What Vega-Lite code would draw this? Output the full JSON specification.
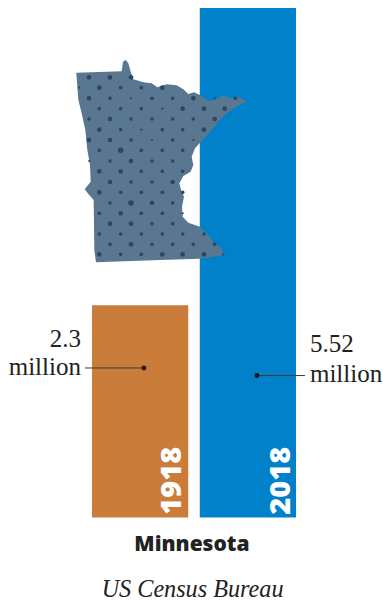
{
"$schema":"https://vega.github.io/schema/vega-lite/v6.json",
"width":383,"height":602,"padding":0,"autosize":{"type":"none"},
"background":"white",
"config":{"view":{"stroke":null}},
"datasets":{
"bars":[{"year":"1918","start":0,"end":1,"population":2.3},{"year":"2018","start":1.12,"end":2.12,"population":5.52}],
"leaders":[{"year":"1918","dot":0.54,"end":-0.073,"level":1.62},{"year":"2018","dot":1.714,"end":2.213,"level":1.538}],
"labelsLeft":[{"text":"2.3","pos":-0.115,"level":1.85},{"text":"million","pos":-0.115,"level":1.54}],
"labelsRight":[{"text":"5.52","pos":2.265,"level":1.79},{"text":"million","pos":2.265,"level":1.47}],
"dots":[
{"e":36,"n":554,"w":3},{"e":99,"n":554,"w":3},{"e":162,"n":554,"w":3},
{"e":6,"n":523,"w":1},{"e":67,"n":523,"w":3},{"e":131,"n":523,"w":2},{"e":193,"n":523,"w":2},{"e":256,"n":523,"w":3},
{"e":36,"n":491,"w":3},{"e":99,"n":491,"w":2},{"e":162,"n":491,"w":1},{"e":225,"n":491,"w":2},{"e":287,"n":491,"w":2},{"e":349,"n":491,"w":3},{"e":413,"n":491,"w":1},{"e":475,"n":491,"w":2},
{"e":67,"n":460,"w":2},{"e":131,"n":460,"w":2},{"e":193,"n":460,"w":2},{"e":256,"n":460,"w":1},{"e":317,"n":460,"w":3},{"e":381,"n":460,"w":3},{"e":443,"n":460,"w":3},
{"e":36,"n":429,"w":2},{"e":99,"n":429,"w":3},{"e":162,"n":429,"w":2},{"e":225,"n":429,"w":2},{"e":287,"n":429,"w":2},{"e":349,"n":429,"w":2},{"e":413,"n":429,"w":3},
{"e":67,"n":397,"w":3},{"e":131,"n":397,"w":2},{"e":193,"n":397,"w":1},{"e":256,"n":397,"w":2},{"e":317,"n":397,"w":2},{"e":381,"n":397,"w":3},
{"e":36,"n":366,"w":3},{"e":99,"n":366,"w":3},{"e":162,"n":366,"w":2},{"e":225,"n":366,"w":1},{"e":287,"n":366,"w":2},{"e":349,"n":366,"w":1},
{"e":67,"n":335,"w":2},{"e":131,"n":335,"w":4},{"e":193,"n":335,"w":2},{"e":256,"n":335,"w":2},{"e":317,"n":335,"w":2},
{"e":37,"n":303,"w":1},{"e":99,"n":303,"w":2},{"e":162,"n":303,"w":3},{"e":225,"n":303,"w":2},{"e":287,"n":303,"w":2},
{"e":67,"n":272,"w":3},{"e":131,"n":272,"w":3},{"e":193,"n":272,"w":2},{"e":256,"n":272,"w":2},{"e":317,"n":272,"w":2},
{"e":99,"n":240,"w":3},{"e":162,"n":240,"w":2},{"e":225,"n":240,"w":2},{"e":287,"n":240,"w":3},
{"e":67,"n":209,"w":3},{"e":131,"n":209,"w":2},{"e":193,"n":209,"w":2},{"e":256,"n":209,"w":2},{"e":317,"n":209,"w":2},
{"e":99,"n":177,"w":2},{"e":162,"n":177,"w":4},{"e":225,"n":177,"w":3},{"e":287,"n":177,"w":2},
{"e":67,"n":146,"w":2},{"e":131,"n":146,"w":3},{"e":193,"n":146,"w":2},{"e":256,"n":146,"w":2},{"e":317,"n":146,"w":1},
{"e":99,"n":115,"w":3},{"e":162,"n":115,"w":3},{"e":225,"n":115,"w":2},{"e":287,"n":115,"w":2},
{"e":67,"n":84,"w":2},{"e":131,"n":84,"w":2},{"e":193,"n":84,"w":2},{"e":256,"n":84,"w":2},{"e":317,"n":84,"w":2},{"e":381,"n":84,"w":2},
{"e":99,"n":53,"w":2},{"e":162,"n":53,"w":3},{"e":225,"n":53,"w":2},{"e":287,"n":53,"w":2},{"e":349,"n":53,"w":2},{"e":413,"n":53,"w":2},
{"e":67,"n":23,"w":3},{"e":131,"n":23,"w":2},{"e":193,"n":23,"w":2},{"e":256,"n":23,"w":3},{"e":317,"n":23,"w":3},{"e":381,"n":23,"w":3},{"e":439,"n":23,"w":1}
]},
"layer":[
{"data":{"name":"bars"},"mark":{"type":"bar"},
 "encoding":{
  "x":{"field":"start","type":"quantitative","axis":null,"scale":{"domain":[0,2.12],"range":[92,296],"nice":false,"zero":false}},
  "x2":{"field":"end"},
  "y":{"field":"population","type":"quantitative","axis":null,"scale":{"domain":[0,5.52],"range":[517.5,8],"nice":false}},
  "y2":{"datum":0},
  "color":{"field":"year","type":"nominal","legend":null,"scale":{"domain":["1918","2018"],"range":["#CA7D3B","#0081C9"]}}}},
{"data":{"values":{"type":"Feature","properties":{"name":"Minnesota"},"geometry":{"type":"Polygon","coordinates":[[[-2,568],[134,572],[138,601],[146,606],[154,596],[162,568],[169,548],[199,539],[224,536],[241,524],[269,533],[299,530],[319,518],[334,504],[351,509],[369,501],[394,484],[414,486],[439,499],[459,491],[484,495],[509,482],[479,466],[449,446],[424,421],[404,396],[379,368],[354,341],[344,316],[349,291],[341,271],[319,258],[307,236],[314,211],[321,196],[315,166],[317,136],[334,118],[369,106],[389,86],[409,61],[434,41],[441,21],[369,10],[249,6],[57,-1],[52,36],[50,186],[34,204],[23,218],[41,241],[39,291],[31,336],[25,396],[14,446],[4,486],[1,526],[-2,568]]]}},"format":{"type":"json"}},
 "projection":{"type":"identity","reflectY":true,"scale":0.33333,"translate":[77,262]},
 "mark":{"type":"geoshape","fill":"#5A7791","stroke":null},"encoding":{}},
{"data":{"name":"dots"},
 "projection":{"type":"identity","reflectY":true,"scale":0.33333,"translate":[77,262]},
 "mark":{"type":"circle","color":"#2F4560","opacity":1},
 "encoding":{
  "longitude":{"field":"e","type":"quantitative"},
  "latitude":{"field":"n","type":"quantitative"},
  "size":{"field":"w","type":"quantitative","legend":null,"scale":{"domain":[1,4],"range":[5,30],"zero":false}}}},
{"data":{"name":"leaders"},"mark":{"type":"rule","color":"#3a3a3a","strokeWidth":1},
 "encoding":{"x":{"field":"dot","type":"quantitative"},"x2":{"field":"end"},"y":{"field":"level","type":"quantitative"}}},
{"data":{"name":"leaders"},"mark":{"type":"circle","color":"#1a1a1a","size":24,"opacity":1},
 "encoding":{"x":{"field":"dot","type":"quantitative"},"y":{"field":"level","type":"quantitative"}}},
{"data":{"name":"labelsLeft"},"mark":{"type":"text","font":"Liberation Serif","fontSize":25,"color":"#222222","baseline":"alphabetic","align":"right"},
 "encoding":{"x":{"field":"pos","type":"quantitative"},"y":{"field":"level","type":"quantitative"},"text":{"field":"text"}}},
{"data":{"name":"labelsRight"},"mark":{"type":"text","font":"Liberation Serif","fontSize":25,"color":"#222222","baseline":"alphabetic","align":"left"},
 "encoding":{"x":{"field":"pos","type":"quantitative"},"y":{"field":"level","type":"quantitative"},"text":{"field":"text"}}},
{"data":{"values":[{"year":"1918","pos":0.83,"base":0.03},{"year":"2018","pos":1.96,"base":0.03}]},
 "mark":{"type":"text","font":"Open Sans","fontWeight":800,"fontSize":29,"color":"white","angle":270,"align":"left","baseline":"middle"},
 "encoding":{"x":{"field":"pos","type":"quantitative"},"y":{"field":"base","type":"quantitative"},"text":{"field":"year"}}},
{"data":{"values":[{"state":"Minnesota","pos":1.039,"level":-0.36}]},
 "mark":{"type":"text","font":"Open Sans","fontWeight":800,"fontSize":21,"color":"#222222","align":"center","baseline":"alphabetic"},
 "encoding":{"x":{"field":"pos","type":"quantitative"},"y":{"field":"level","type":"quantitative"},"text":{"field":"state"}}},
{"data":{"values":[{"source":"US Census Bureau","pos":1.045,"level":-0.865}]},
 "mark":{"type":"text","font":"Liberation Serif","fontStyle":"italic","fontSize":24.2,"color":"#222222","align":"center","baseline":"alphabetic"},
 "encoding":{"x":{"field":"pos","type":"quantitative"},"y":{"field":"level","type":"quantitative"},"text":{"field":"source"}}}
]
}
